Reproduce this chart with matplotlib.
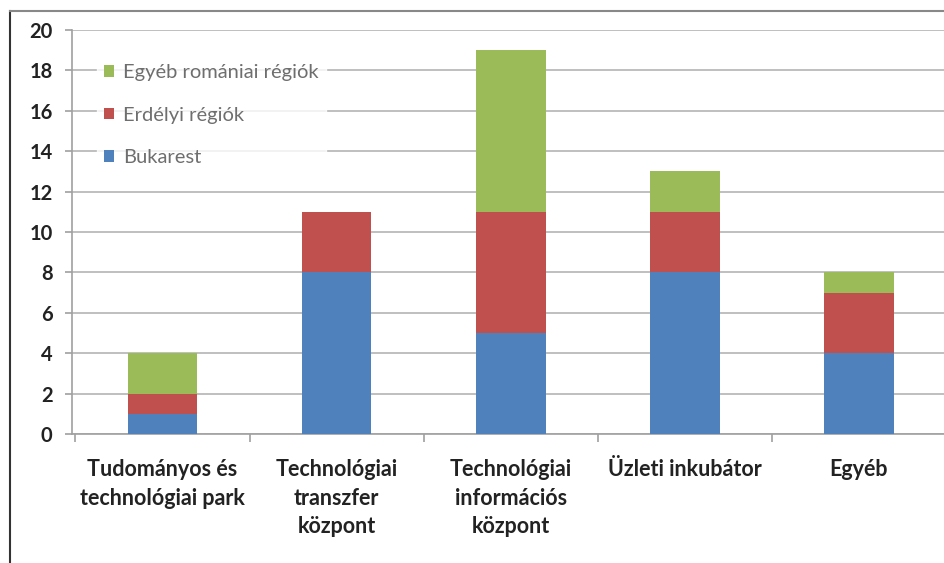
import matplotlib
matplotlib.use("Agg")
import matplotlib.pyplot as plt
from matplotlib.lines import Line2D
import numpy as np

categories = ["Tudományos és\ntechnológiai park", "Technológiai\ntranszfer\nközpont",
              "Technológiai\ninformációs\nközpont", "Üzleti inkubátor", "Egyéb"]
bukarest = [1, 8, 5, 8, 4]
erdelyi = [1, 3, 6, 3, 3]
egyeb_rom = [2, 0, 8, 2, 1]
series_names = ["Bukarest", "Erdélyi régiók", "Egyéb romániai régiók"]
colors = ["#4F81BD", "#C0504D", "#9BBB59"]
yticks = list(range(0, 21, 2))

plt.rcParams['font.family'] = ['Lato', 'DejaVu Sans']

fig = plt.figure(figsize=(9.45, 5.63), dpi=100)
ax = fig.add_axes([72/945, 1-434/563, (946-72)/945, (434-30)/563])

x = np.arange(len(categories))
b1 = ax.bar(x, bukarest, width=0.4, color=colors[0], label=series_names[0], zorder=3)
b2 = ax.bar(x, erdelyi, width=0.4, bottom=bukarest, color=colors[1], label=series_names[1], zorder=3)
bottom3 = np.array(bukarest) + np.array(erdelyi)
b3 = ax.bar(x, egyeb_rom, width=0.4, bottom=bottom3, color=colors[2], label=series_names[2], zorder=3)

ax.set_xlim(-0.52, len(categories) - 0.52)
ax.set_ylim(0, 20)
ax.set_yticks(yticks)
ax.set_yticklabels([str(v) for v in yticks], fontsize=14.5, fontweight='bold', color='#222222')
ax.yaxis.grid(True, color='#BFBFBF', linewidth=1.4, zorder=0)
ax.set_axisbelow(True)

ax.set_xticks(x)
ax.set_xticklabels(categories, fontsize=15.5, fontweight='bold', color='#222222', linespacing=1.45)
ax.set_xticks(np.arange(-0.5, len(categories)), minor=True)
ax.tick_params(axis='x', which='major', length=0, pad=18)
ax.tick_params(axis='x', which='minor', length=6, color='#A0A0A0', width=1.2)
ax.tick_params(axis='y', length=5, color='#A0A0A0', width=1.2, pad=9)

for s in ['top', 'right']:
    ax.spines[s].set_visible(False)
for s in ['left', 'bottom']:
    ax.spines[s].set_color('#A0A0A0')
    ax.spines[s].set_linewidth(1.2)

handles = [b3, b2, b1]
leg = ax.legend(handles, [series_names[2], series_names[1], series_names[0]],
                loc='upper left', bbox_to_anchor=(0.017, 0.958), frameon=True,
                fontsize=14.5, labelspacing=1.27, handlelength=0.5, handleheight=0.5,
                handletextpad=0.45, borderpad=0.35, fancybox=False)
leg.get_frame().set_facecolor('white')
leg.get_frame().set_edgecolor('white')
for t in leg.get_texts():
    t.set_color('#6E6E6E')

# figure border lines (left and top)
fig.add_artist(Line2D([10/945, 10/945], [0, 1-11/563], transform=fig.transFigure, color='#333333', lw=1.5))
fig.add_artist(Line2D([10/945, 1], [1-11/563, 1-11/563], transform=fig.transFigure, color='#888888', lw=1.5))

fig.savefig("out.png", dpi=100)
